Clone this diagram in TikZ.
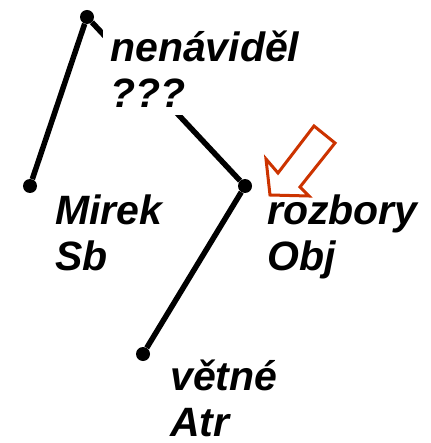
\documentclass[tikz,border=0pt]{standalone}
\usepackage{fontspec}
\setmainfont{Liberation Sans}
\usepackage{tikz}

\tikzset{
  dot/.style={circle, fill=black, inner sep=0pt, minimum size=14pt},
  edge/.style={line width=5.5pt},
  lbl/.style={anchor=north west, align=left, inner sep=0pt,
    font=\fontsize{41}{46}\selectfont\bfseries\itshape}
}

\begin{document}
\begin{tikzpicture}[x=1pt, y=-1pt]
        \useasboundingbox (0, 0) rectangle (430, 443);
        \node[dot] (root) at (87, 17) {};
        \node[dot] (mirek) at (30, 186) {};
        \node[dot] (rozbory) at (245, 186) {};
        \node[dot] (vetne) at (143, 354) {};
        \draw[edge] (root) -- (mirek);
        \draw[edge] (root) -- (rozbory);
        \draw[edge] (rozbory) -- (vetne);
        \node[lbl, fill=white, inner sep=7pt] (lroot) at (103, 24) {nenáviděl\\???};
        \node[lbl] (lmirek) at (55, 195) {Mirek\\Sb};
        \node[lbl] (lrozbory) at (267, 195) {rozbory\\Obj};
        \node[lbl] (lvetne) at (170, 360) {větné\\Atr};
        % pointer to the object
        \draw[line width=3pt, color={rgb,255:red,204;green,51;blue,0}, line join=miter]
          (270, 195) -- (266, 159) -- (278, 173) -- (314, 126) -- (335, 143)
          -- (300, 187) -- (309, 196) -- cycle;
      \end{tikzpicture}
\end{document}
